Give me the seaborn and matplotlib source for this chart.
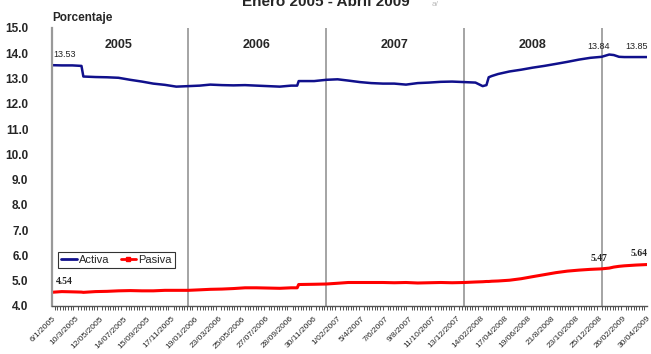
import pandas as pd
import numpy as np
import matplotlib
matplotlib.use("Agg")
import matplotlib.pyplot as plt
import matplotlib.dates as mdates
from matplotlib.lines import Line2D
import seaborn as sns

# Tasas activa / pasiva (%)
dates = ["03/01/2005", "01/02/2005", "01/03/2005", "25/03/2005", "30/03/2005",
         "01/05/2005", "01/06/2005", "01/07/2005", "01/08/2005", "01/09/2005",
         "01/10/2005", "01/11/2005", "01/12/2005", "02/01/2006", "01/02/2006",
         "01/03/2006", "01/04/2006", "01/05/2006", "01/06/2006", "01/07/2006",
         "01/08/2006", "01/09/2006", "01/10/2006", "17/10/2006", "21/10/2006",
         "01/12/2006", "02/01/2007", "01/02/2007", "01/03/2007", "01/04/2007",
         "01/05/2007", "01/06/2007", "01/07/2007", "01/08/2007", "01/09/2007",
         "01/10/2007", "01/11/2007", "01/12/2007", "02/01/2008", "01/02/2008",
         "20/02/2008", "01/03/2008", "07/03/2008", "15/03/2008", "01/04/2008",
         "01/05/2008", "01/06/2008", "01/07/2008", "01/08/2008", "01/09/2008",
         "01/10/2008", "01/11/2008", "01/12/2008", "31/12/2008", "20/01/2009",
         "01/02/2009", "15/02/2009", "01/03/2009", "01/04/2009", "30/04/2009"]
activa = [13.53, 13.52, 13.52, 13.50, 13.08,
          13.06, 13.05, 13.03, 12.95, 12.88,
          12.80, 12.75, 12.68, 12.70, 12.72,
          12.76, 12.74, 12.73, 12.74, 12.72,
          12.70, 12.68, 12.72, 12.72, 12.90,
          12.90, 12.95, 12.97, 12.92, 12.86,
          12.82, 12.80, 12.80, 12.76, 12.82,
          12.84, 12.87, 12.88, 12.86, 12.84,
          12.70, 12.74, 13.05, 13.10, 13.18,
          13.28, 13.35, 13.43, 13.50, 13.58,
          13.66, 13.75, 13.82, 13.86, 13.95,
          13.93, 13.86, 13.85, 13.85, 13.85]
pasiva = [4.54, 4.57, 4.56, 4.55, 4.54,
          4.57, 4.58, 4.60, 4.61, 4.60,
          4.60, 4.62, 4.62, 4.62, 4.64,
          4.66, 4.67, 4.69, 4.72, 4.72,
          4.71, 4.70, 4.72, 4.72, 4.85,
          4.86, 4.87, 4.90, 4.93, 4.93,
          4.93, 4.93, 4.92, 4.93, 4.91,
          4.92, 4.93, 4.92, 4.93, 4.95,
          4.96, 4.97, 4.97, 4.98, 4.99,
          5.02, 5.08, 5.16, 5.24, 5.32,
          5.38, 5.42, 5.45, 5.47, 5.50,
          5.54, 5.57, 5.59, 5.62, 5.64]

tick_labels = ["6/1/2005", "10/3/2005", "12/05/2005", "14/07/2005", "15/09/2005",
               "17/11/2005", "19/01/2006", "23/03/2006", "25/05/2006", "27/07/2006",
               "28/09/2006", "30/11/2006", "1/02/2007", "5/4/2007", "7/6/2007",
               "9/8/2007", "11/10/2007", "13/12/2007", "14/02/2008", "17/04/2008",
               "19/06/2008", "21/8/2008", "23/10/2008", "25/12/2008", "26/02/2009",
               "30/04/2009"]
years = [2005, 2006, 2007, 2008]
separators = ["01/01/2006", "01/01/2007", "01/01/2008", "01/01/2009"]

# point labels (date, value)
labels_activa = [("06/01/2005", 13.53), ("24/12/2008", 13.84), ("02/04/2009", 13.85)]
labels_pasiva = [("06/01/2005", 4.54), ("24/12/2008", 5.47), ("08/04/2009", 5.64)]

df = pd.DataFrame({"fecha": pd.to_datetime(dates, dayfirst=True),
                   "Activa": activa, "Pasiva": pasiva})
ticks = pd.to_datetime(tick_labels, dayfirst=True)

sns.set_style("white")
plt.rcParams["font.family"] = ["Liberation Sans", "DejaVu Sans"]

navy = "#10108c"
red = "#ff0000"

fig = plt.figure(figsize=(6.51, 3.54), dpi=100)
ax = fig.add_axes([52 / 651, 1 - 306 / 354, 595 / 651, 278 / 354])

sns.lineplot(data=df, x="fecha", y="Activa", color=navy, lw=1.8, ax=ax)
sns.lineplot(data=df, x="fecha", y="Pasiva", color=red, lw=2.2, ax=ax)

for s in separators:
    ax.axvline(pd.to_datetime(s, dayfirst=True), color="#8c8c8c", lw=1.1, zorder=1)

ax.set_xlim(ticks[0], ticks[-1])
ax.set_ylim(4.0, 15.0)
ax.set_yticks(np.arange(4, 16, 1))
ax.yaxis.set_major_formatter(matplotlib.ticker.FormatStrFormatter("%.1f"))
ax.set_xticks(ticks)
ax.set_xticklabels(tick_labels, rotation=45, ha="right", rotation_mode="anchor",
                   fontsize=6.0)
ax.xaxis.set_minor_locator(mdates.WeekdayLocator(byweekday=mdates.TH))
ax.tick_params(axis="x", which="major", length=5, width=0.8, color="#333333", pad=1.5)
ax.tick_params(axis="x", which="minor", length=3, width=0.6, color="#333333", bottom=True)
ax.tick_params(axis="y", length=8, width=1, color="#b5a642", pad=9)
for t in ax.get_yticklabels():
    t.set_fontweight("bold")
    t.set_fontsize(8.5)
ax.set_xlabel("")
ax.set_ylabel("")

for side in ["top", "right"]:
    ax.spines[side].set_visible(False)
ax.spines["left"].set_color("#999999")
ax.spines["left"].set_linewidth(1.6)
ax.spines["bottom"].set_color("#555555")
ax.spines["bottom"].set_linewidth(1.0)

for y in years:
    ax.text(pd.Timestamp(y, 7, 1), 0.94, str(y), transform=ax.get_xaxis_transform(),
            ha="center", va="center", fontsize=9, fontweight="bold")

for i, (d, v) in enumerate(labels_activa):
    ax.annotate(f"{v:.2f}", (pd.to_datetime(d, dayfirst=True), v), xytext=(1 if i == 0 else 0, 6),
                textcoords="offset points", ha="left" if i == 0 else "center",
                fontsize=6.5, color="#222222", annotation_clip=False)
for i, (d, v) in enumerate(labels_pasiva):
    ax.annotate(f"{v:.2f}", (pd.to_datetime(d, dayfirst=True), v), xytext=(3 if i == 0 else 0, 6),
                textcoords="offset points", ha="left" if i == 0 else "center",
                fontsize=7, fontweight="bold", family="Liberation Serif", color="#222222",
                annotation_clip=False)

handles = [Line2D([], [], color=navy, lw=2),
           Line2D([], [], color=red, lw=2, marker="s", markersize=2.5)]
leg = ax.legend(handles, ["Activa", "Pasiva"], loc="lower left", ncol=2,
                bbox_to_anchor=(0.01, 0.135), fontsize=8, frameon=True, fancybox=False,
                handlelength=1.4, handletextpad=0.2, columnspacing=1.0,
                borderpad=0.3, borderaxespad=0)
leg.get_frame().set_edgecolor("black")
leg.get_frame().set_linewidth(0.8)

fig.text(0.5, 1 - 6 / 354, "Enero 2005 - Abril 2009", ha="center", va="baseline",
         fontsize=11, fontweight="bold")
fig.text(432 / 651, 1 - 6 / 354, "a/", fontsize=6, color="#bbbbbb")
fig.text(52 / 651, 1 - 21 / 354, "Porcentaje", fontsize=8.5, fontweight="bold")

fig.savefig("out.png", dpi=100)
